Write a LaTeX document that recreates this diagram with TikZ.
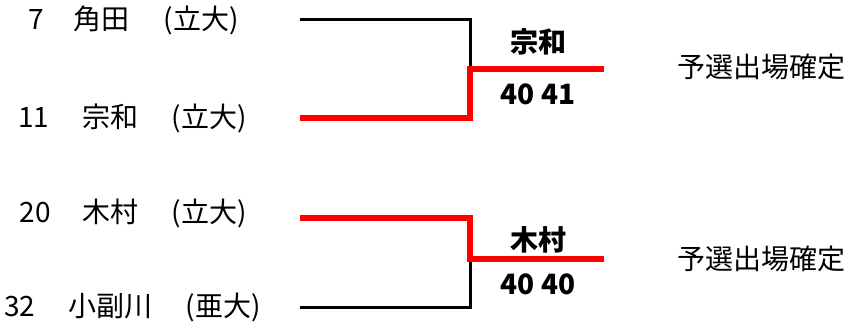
\documentclass[tikz,border=0pt]{standalone}
\usepackage{fontspec}
\setmainfont{Noto Sans CJK JP}
\begin{document}
\begin{tikzpicture}[x=1pt,y=1pt,
  lbl/.style={inner sep=0pt, anchor=base, font=\fontsize{28}{30}\selectfont},
  win/.style={inner sep=0pt, anchor=base, font=\fontsize{28}{30}\selectfont\bfseries},
  lose/.style={line width=3pt, black},
  wline/.style={line width=5.5pt, red}]
\useasboundingbox (0,0) rectangle (854,326);
% entrants
\node[lbl] (n1) at (36,296) {7};
\node[lbl] (p1) at (101,296) {角田};
\node[lbl] (u1) at (201,296) {(立大)};
\node[lbl] (n2) at (34,198) {11};
\node[lbl] (p2) at (110,198) {宗和};
\node[lbl] (u2) at (209,198) {(立大)};
\node[lbl] (n3) at (35,103) {20};
\node[lbl] (p3) at (110,103) {木村};
\node[lbl] (u3) at (209,103) {(立大)};
\node[lbl] (n4) at (20,9) {32};
\node[lbl] (p4) at (110,9) {小副川};
\node[lbl] (u4) at (223,9) {(亜大)};
% bracket coordinates
\coordinate (a1) at (300,306);
\coordinate (a2) at (470,306);
\coordinate (j1) at (470,257);
\coordinate (b1) at (300,208);
\coordinate (b2) at (470,208);
\coordinate (w1) at (604,257);
\coordinate (c1) at (300,108);
\coordinate (c2) at (470,108);
\coordinate (j2) at (470,67);
\coordinate (d1) at (300,18);
\coordinate (d2) at (470,18);
\coordinate (w2) at (604,67);
\draw[lose] (a1) -- (a2) -- (j1);
\draw[wline] (b1) -- (b2) -- (j1) -- (w1);
\draw[lose] (d1) -- (d2) -- (j2);
\draw[wline] (c1) -- (c2) -- (j2) -- (w2);
% winners
\node[win] (wn1) at (538,273) {宗和};
\node[win] (ws1) at (538,221) {40 41};
\node[win] (wn2) at (538,75) {木村};
\node[win] (ws2) at (538,31) {40 40};
\node[lbl] (q1) at (761,248) {予選出場確定};
\node[lbl] (q2) at (761,56) {予選出場確定};
\end{tikzpicture}
\end{document}
